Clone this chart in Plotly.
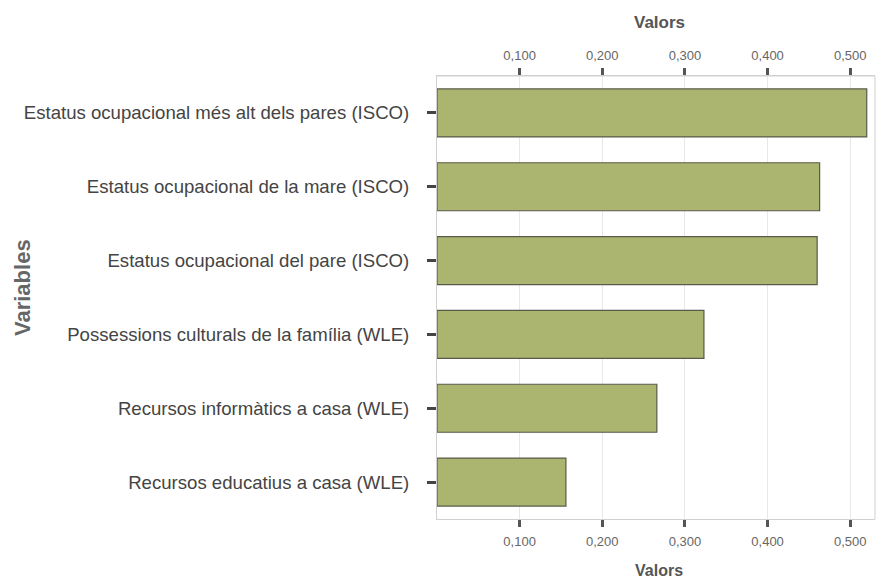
import plotly.graph_objects as go

categories = [
    "Estatus ocupacional més alt dels pares (ISCO)",
    "Estatus ocupacional de la mare (ISCO)",
    "Estatus ocupacional del pare (ISCO)",
    "Possessions culturals de la família (WLE)",
    "Recursos informàtics a casa (WLE)",
    "Recursos educatius a casa (WLE)",
]
values = [0.520, 0.463, 0.460, 0.323, 0.266, 0.156]
tick_vals = [0.1, 0.2, 0.3, 0.4, 0.5]
tick_text = ["0,100", "0,200", "0,300", "0,400", "0,500"]

L, R, T, B = 437, 3, 76, 62
W, H = 878, 581

fig = go.Figure()
fig.add_trace(go.Bar(
    y=categories, x=values, orientation="h", width=0.65,
    marker=dict(color="#abb56f", line=dict(color="#5a5a4a", width=1.2)),
    xaxis="x", yaxis="y", showlegend=False,
))
fig.add_trace(go.Bar(
    y=categories, x=values, orientation="h", width=0.65,
    marker=dict(color="rgba(0,0,0,0)", line=dict(width=0)),
    xaxis="x2", yaxis="y", showlegend=False, hoverinfo="skip",
))

xcommon = dict(
    range=[0, 0.53], tickvals=tick_vals, ticktext=tick_text,
    showgrid=True, gridcolor="#e8e8e8", gridwidth=1,
    ticks="outside", ticklen=7, tickwidth=3, tickcolor="#555",
    tickfont=dict(family="Arial, Liberation Sans", size=13, color="#666"),
    showline=True, linecolor="#d0d0d0", linewidth=1, mirror=False, zeroline=False,
    automargin=False, ticklabelstandoff=3,
)
fig.update_layout(
    width=W, height=H,
    margin=dict(l=L, r=R, t=T, b=B),
    paper_bgcolor="white", plot_bgcolor="white",
    barmode="overlay",
    xaxis=dict(**xcommon, side="bottom", anchor="y"),
    xaxis2=dict(**xcommon, side="top", overlaying="x", anchor="y"),
    yaxis=dict(
        categoryorder="array", categoryarray=categories[::-1],
        range=[-0.5, 5.5], ticks="outside", ticklen=9, tickwidth=2.5, tickcolor="#444",
        tickfont=dict(family="Arial, Liberation Sans", size=18.6, color="#444"),
        showline=True, linecolor="#d0d0d0", linewidth=1, showgrid=False,
        ticklabelstandoff=14, automargin=False,
    ),
    shapes=[
        dict(type="line", xref="paper", yref="paper", x0=1, x1=1, y0=0, y1=1,
             line=dict(color="#d0d0d0", width=1)),
        dict(type="line", xref="paper", yref="paper", x0=0, x1=1, y0=1, y1=1,
             line=dict(color="#d0d0d0", width=1)),
    ],
)

pw = W - L - R
ph = H - T - B


def px(x):
    return (x - L) / pw


def py(y):
    return (H - y - B) / ph


ann_font = dict(family="Arial, Liberation Sans", color="#555")
common_ann = dict(xref="paper", yref="paper", showarrow=False,
                  xanchor="center", yanchor="middle")
fig.add_annotation(text="<b>Valors</b>", x=px(659), y=py(22),
                   font=dict(**ann_font, size=17), **common_ann)
fig.add_annotation(text="<b>Valors</b>", x=px(659), y=py(570),
                   font=dict(**ann_font, size=16), **common_ann)
fig.add_annotation(text="<b>Variables</b>", x=px(22), y=py(288), textangle=-90,
                   font=dict(family="Arial, Liberation Sans", size=22, color="#666"),
                   **common_ann)

fig.write_html(
    "out.html",
    config={"displayModeBar": False},
    post_script="document.body.style.margin='0';document.body.style.overflow='hidden';",
)
